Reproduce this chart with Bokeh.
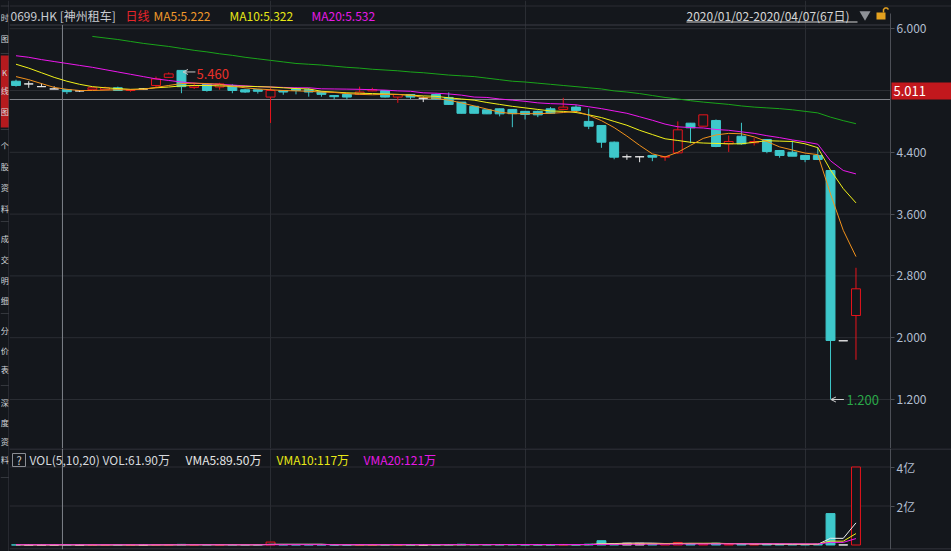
import math
from bokeh.plotting import figure
from bokeh.layouts import row, column
from bokeh.models import (Range1d, FixedTicker, PrintfTickFormatter, Label, Arrow,
                          OpenHead, ColumnDataSource, GlobalInlineStyleSheet)
from bokeh.core.properties import value
from bokeh.embed import file_html
from bokeh.resources import INLINE

# ---------------- data ----------------
symbol = "0699.HK [神州租车]"
period_label = "日线"
date_label = "2020/01/02-2020/04/07(67日)"
ma_labels = ["MA5:5.222", "MA10:5.322", "MA20:5.532"]
vol_labels = ["VOL(5,10,20) VOL:61.90万", "VMA5:89.50万", "VMA10:117万", "VMA20:121万"]
cursor_price_label = "5.011"

opens = [5.32, 5.285, 5.25, 5.22, 5.21, 5.195, 5.21, 5.21, 5.235, 5.2,
         5.22, 5.265, 5.37, 5.46, 5.24, 5.28, 5.245, 5.265, 5.21, 5.21,
         5.115, 5.2, 5.22, 5.21, 5.185, 5.135, 5.15, 5.15, 5.195, 5.2,
         5.115, 5.148, 5.1, 5.148, 5.11, 5.05, 4.995, 4.95, 4.963, 4.955,
         4.93, 4.93, 4.963, 4.955, 4.985, 4.8, 4.747, 4.531, 4.342, 4.342,
         4.359, 4.337, 4.393, 4.777, 4.738, 4.812, 4.51, 4.608, 4.523, 4.566,
         4.423, 4.401, 4.359, 4.359, 4.164, 1.96, 2.287]
highs = [5.34, 5.32, 5.295, 5.255, 5.22, 5.2, 5.24, 5.25, 5.25, 5.21,
         5.23, 5.38, 5.435, 5.46, 5.30, 5.29, 5.30, 5.28, 5.22, 5.215,
         5.23, 5.2, 5.24, 5.23, 5.19, 5.14, 5.155, 5.25, 5.235, 5.205,
         5.15, 5.15, 5.122, 5.16, 5.175, 5.05, 5.0, 4.95, 4.965, 4.96,
         4.93, 4.94, 4.985, 5.105, 5.01, 4.965, 4.75, 4.54, 4.372, 4.345,
         4.36, 4.35, 4.80, 4.78, 4.885, 4.825, 4.617, 4.782, 4.583, 4.57,
         4.43, 4.553, 4.36, 4.466, 4.164, 1.96, 2.905]
lows = [5.25, 5.235, 5.25, 5.22, 5.155, 5.18, 5.205, 5.205, 5.195, 5.185,
        5.21, 5.245, 5.37, 5.165, 5.22, 5.185, 5.21, 5.165, 5.17, 5.16,
        4.78, 5.145, 5.15, 5.12, 5.12, 5.085, 5.085, 5.145, 5.19, 5.11,
        5.04, 5.09, 5.05, 5.08, 5.015, 4.905, 4.905, 4.895, 4.865, 4.725,
        4.825, 4.855, 4.9, 4.95, 4.94, 4.70, 4.458, 4.31, 4.303, 4.272,
        4.285, 4.29, 4.38, 4.518, 4.738, 4.466, 4.405, 4.5, 4.488, 4.388,
        4.33, 4.35, 4.272, 4.30, 1.20, 1.96, 1.714]
closes = [5.265, 5.285, 5.25, 5.22, 5.185, 5.195, 5.235, 5.235, 5.2, 5.21,
          5.22, 5.35, 5.415, 5.25, 5.26, 5.2, 5.285, 5.2, 5.18, 5.19,
          5.2, 5.18, 5.2, 5.18, 5.15, 5.12, 5.115, 5.18, 5.21, 5.115,
          5.148, 5.115, 5.1, 5.09, 5.02, 4.905, 4.905, 4.898, 4.898, 4.9,
          4.89, 4.885, 4.906, 4.985, 4.94, 4.738, 4.531, 4.337, 4.342, 4.342,
          4.337, 4.346, 4.691, 4.717, 4.885, 4.475, 4.54, 4.51, 4.54, 4.41,
          4.359, 4.35, 4.307, 4.307, 1.964, 1.96, 2.633]

ma5 = [5.38, 5.34, 5.29, 5.24, 5.215, 5.2, 5.2, 5.205, 5.21, 5.21,
       5.215, 5.24, 5.265, 5.29, 5.295, 5.29, 5.28, 5.255, 5.235, 5.22,
       5.21, 5.2, 5.195, 5.19, 5.18, 5.175, 5.16, 5.15, 5.145, 5.15,
       5.148, 5.14, 5.11, 5.1, 5.075, 5.04, 5.0, 4.96, 4.92, 4.9,
       4.9, 4.9, 4.905, 4.915, 4.93, 4.88, 4.81, 4.72, 4.61, 4.49,
       4.38, 4.34, 4.40, 4.49, 4.58, 4.625, 4.645, 4.64, 4.60, 4.54,
       4.47, 4.43, 4.39, 4.37, 3.86, 3.39, 3.05]
ma10 = [5.54, 5.49, 5.43, 5.37, 5.32, 5.28, 5.25, 5.235, 5.225, 5.215,
        5.22, 5.235, 5.245, 5.26, 5.265, 5.265, 5.26, 5.255, 5.255, 5.25,
        5.245, 5.235, 5.225, 5.22, 5.19, 5.18, 5.17, 5.165, 5.16, 5.155,
        5.15, 5.14, 5.13, 5.125, 5.105, 5.09, 5.075, 5.045, 5.02, 4.995,
        4.975, 4.955, 4.935, 4.93, 4.915, 4.885, 4.85, 4.80, 4.75, 4.685,
        4.63, 4.575, 4.553, 4.53, 4.52, 4.515, 4.51, 4.51, 4.53, 4.55,
        4.545, 4.54, 4.51, 4.46, 4.17, 3.93, 3.745]
ma20 = [5.65, 5.63, 5.60, 5.575, 5.55, 5.525, 5.50, 5.47, 5.44, 5.41,
        5.38, 5.35, 5.33, 5.31, 5.295, 5.285, 5.28, 5.27, 5.26, 5.25,
        5.245, 5.24, 5.235, 5.235, 5.222, 5.22, 5.218, 5.215, 5.21, 5.205,
        5.195, 5.19, 5.17, 5.165, 5.155, 5.14, 5.115, 5.11, 5.09, 5.075,
        5.06, 5.04, 5.03, 5.025, 5.015, 4.99, 4.965, 4.935, 4.905, 4.86,
        4.815, 4.765, 4.73, 4.72, 4.715, 4.695, 4.685, 4.665, 4.645, 4.615,
        4.59, 4.56, 4.535, 4.505, 4.29, 4.165, 4.12]
nan = float("nan")
ma60 = [nan, nan, nan, nan, nan, nan,
        5.90, 5.88, 5.86, 5.835, 5.81, 5.79, 5.77, 5.745, 5.72, 5.70,
        5.675, 5.655, 5.63, 5.61, 5.59, 5.57, 5.55, 5.54, 5.53,
        5.515, 5.50, 5.49, 5.475, 5.465, 5.455, 5.44, 5.43, 5.415, 5.40,
        5.39, 5.38, 5.36, 5.34, 5.32, 5.31, 5.295, 5.28, 5.265, 5.25, 5.235,
        5.22, 5.195, 5.18, 5.16, 5.135, 5.11, 5.09, 5.068, 5.05, 5.035,
        5.02, 5.0, 4.985, 4.975, 4.965, 4.95, 4.93, 4.91, 4.855, 4.81, 4.77]

# volume in 万 shares
volumes = [62, 45, 30, 28, 61.9, 20, 35, 40, 55, 25,
           30, 180, 150, 320, 90, 110, 85, 120, 70, 60,
           1500, 140, 95, 110, 80, 60, 75, 130, 90, 160,
           110, 70, 40, 85, 210, 380, 260, 190, 170, 240,
           150, 120, 130, 280, 140, 420, 2200, 560, 900, 850,
           700, 760, 1300, 620, 480, 910, 350, 430, 260, 520,
           310, 280, 240, 330, 16100, 60, 40000]
vma5 = [95, 82, 70, 55, 89.5, 37, 35, 37, 42, 35, 37,
        67, 88, 142, 155, 170, 151, 145, 95, 89,
        367, 378, 385, 385, 397, 97, 84, 91, 87, 103,
        113, 113, 104, 101, 123, 189, 215, 223, 240, 248,
        202, 174, 166, 184, 164, 226, 634, 720, 940, 1006,
        962, 754, 822, 848, 772, 814, 732, 678, 486, 530,
        374, 356, 322, 338, 3452, 3402, 11346]
vma10 = [110, 105, 100, 98, 117, 95, 90, 85, 80, 60, 40, 55, 70, 90, 95, 100, 110, 115, 118, 120,
         255, 260, 262, 265, 268, 240, 230, 120, 118, 122, 120, 120, 118, 125, 130, 150, 165, 172, 188, 195,
         205, 200, 205, 205, 206, 208, 450, 470, 580, 620,
         690, 700, 740, 830, 880, 880, 740, 700, 650, 640,
         600, 550, 500, 500, 1973, 1960, 5853]
vma20 = [125, 122, 120, 121, 121, 118, 115, 112, 108, 100, 98, 95, 95, 100, 102, 108, 100, 100, 102, 103,
         150, 160, 165, 170, 175, 175, 175, 175, 170, 160, 182, 178, 175, 175, 180, 190, 195, 195, 200, 210,
         230, 230, 225, 220, 225, 235, 300, 340, 390, 420,
         450, 470, 500, 530, 540, 560, 600, 610, 610, 620,
         610, 600, 580, 560, 1350, 1340, 3298]

month_starts = [20, 40, 62]
price_ticks = [1.2, 2.0, 2.8, 3.6, 4.4, 6.0]
price_grid = [1.2, 2.0, 2.8, 3.6, 4.4, 5.2, 6.0]
vol_ticks = [2, 4]
vol_tick_text = {2: "2亿", 4: "4亿"}
cursor_index = 3.65
side_tabs = [("时", 17), ("图", 38), ("K", 72), ("线", 90), ("图", 111),
             ("个", 145), ("股", 166), ("资", 187), ("料", 208),
             ("成", 238), ("交", 259), ("明", 280), ("细", 300),
             ("分", 330), ("价", 350), ("表", 369),
             ("深", 402), ("度", 422), ("资", 441), ("料", 459)]

# ---------------- styling ----------------
BG = "#14171c"
GRID = "#2a2d33"
OUT = "#3a3d44"
AXC = "#4c4f56"
CROSS = "#7e8188"
UP = "#e8141c"
DN = "#3ec8cb"
EQ = "#e6e6e6"
FONT = "Noto Sans CJK SC"
LBL = "#b2bed0"

# layout helpers: page pixel -> data (annotation / frame placement only)
def xd(px): return (px - 15.5) / 12.727
def yd(py): return 6.0 - (py - 28.2) / 77.25
def vd(py): return (544.5 - py) / 19.5

N = len(opens)
idx = list(range(N))
col = [UP if c > o else (DN if c < o else EQ) for o, c in zip(opens, closes)]
fill = [BG if c > o else k for o, c, k in zip(opens, closes, col)]
top = [max(o, c) for o, c in zip(opens, closes)]
bot = [min(o, c) for o, c in zip(opens, closes)]
src = ColumnDataSource(dict(x=idx, h=highs, l=lows, top=top, bot=bot, col=col, fill=fill,
                            vol=[q / 10000.0 for q in volumes]))

def base_fig(w, h, xr, yr, **kw):
    return figure(width=w, height=h, x_range=xr, y_range=yr, title=None,
                  toolbar_location=None, output_backend="svg",
                  background_fill_color=BG, border_fill_color=BG,
                  min_border_left=0, min_border_top=0, min_border_bottom=0,
                  min_border_right=0, outline_line_color=None, **kw)

def style_axis(a):
    a.axis_line_color = AXC
    a.major_tick_line_color = AXC
    a.major_tick_out = 4
    a.major_tick_in = 0
    a.minor_tick_line_color = None
    a.major_label_text_color = LBL
    a.major_label_text_font = FONT
    a.major_label_text_font_size = "12px"
    a.major_label_standoff = 2

xr = Range1d(xd(9), xd(951))
X_AXIS = xd(890)   # where the price / volume scales sit
X_LEFT = xd(9)

# ---------------- sidebar ----------------
s = base_fig(9, 551, Range1d(0, 9), Range1d(551, 0), x_axis_location=None, y_axis_location=None)
s.grid.visible = False
s.quad(left=[0], right=[9], top=[55], bottom=[127], fill_color="#b51a1e", line_color=None)
s.segment(x0=[0] * 7, x1=[9] * 7, y0=[5.5, 53, 129, 221, 313, 385, 477],
          y1=[5.5, 53, 129, 221, 313, 385, 477], color="#34373d")
s.segment(x0=[8.5], x1=[8.5], y0=[0], y1=[551], color=OUT)
s.text(x=[4.2] * len(side_tabs), y=[t[1] for t in side_tabs], text=[t[0] for t in side_tabs],
       text_font=value(FONT), text_font_size="8px", text_color="#d2d5da",
       text_align="center", text_baseline="middle")

# ---------------- main price panel (with header strip on top) ----------------
p = base_fig(942, 448, xr, Range1d(yd(448), yd(0)), x_axis_location=None,
             y_axis_location="right")
p.xgrid.ticker = FixedTicker(ticks=month_starts)
p.xgrid.grid_line_color = GRID
p.ygrid.visible = False
ax = p.yaxis[0]
ax.fixed_location = X_AXIS
ax.bounds = (yd(448), yd(13))
ax.ticker = FixedTicker(ticks=price_ticks)
ax.formatter = PrintfTickFormatter(format="%.3f")
style_axis(ax)

ng = len(price_grid)
p.segment(x0=[X_LEFT] * ng, x1=[X_AXIS] * ng, y0=price_grid, y1=price_grid, color=GRID)
# panel borders
p.segment(x0=[X_LEFT], x1=[X_AXIS], y0=[yd(24.5)], y1=[yd(24.5)], color=OUT)
p.segment(x0=[X_LEFT], x1=[xd(951)], y0=[yd(5.5)], y1=[yd(5.5)], color=GRID)
# cursor cross-hair and its price tag on the scale
p.segment(x0=[cursor_index], x1=[cursor_index], y0=[yd(24.5)], y1=[yd(448)], color=CROSS)
p.segment(x0=[X_LEFT], x1=[X_AXIS], y0=[yd(99)], y1=[yd(99)], color=CROSS)
p.quad(left=[xd(891)], right=[xd(951)], top=[yd(82)], bottom=[yd(99)],
       fill_color="#c2181d", fill_alpha=1.0, line_color=None)
p.text(x=[xd(893)], y=[yd(90.5)], text=[cursor_price_label], text_color="#ffffff",
       text_font=value(FONT), text_font_size="13px", text_baseline="middle")

# header texts
hx = [10, 125, 153, 229, 311]
htxt = [symbol, period_label] + ma_labels
hcol = ["#c9ccd2", "#e8252b", "#f0992a", "#e8e816", "#e619e6"]
p.text(x=[xd(q) for q in hx], y=[yd(15)] * 5, text=htxt, text_color=hcol,
       text_font=value(FONT), text_font_size="12px", text_baseline="middle")
p.text(x=[xd(686)], y=[yd(15)], text=[date_label], text_color="#d6d6d6",
       text_font=value(FONT), text_font_size="12px", text_baseline="middle")
p.segment(x0=[xd(686)], x1=[xd(857)], y0=[yd(21.5)], y1=[yd(21.5)], color="#d6d6d6")
p.scatter(x=[xd(864.5)], y=[yd(14)], marker="inverted_triangle", size=11,
          fill_color="#8e9197", line_color=None)
p.quad(left=[xd(876)], right=[xd(885)], top=[yd(12)], bottom=[yd(19)],
       fill_color="#e3a11f", line_color=None)
p.line(x=[xd(883), xd(883), xd(884.5), xd(886.5), xd(888)],
       y=[yd(12), yd(9), yd(7.5), yd(7.5), yd(9)], line_color="#e3a11f", line_width=1.5)

# candles and moving averages
p.line(idx, ma60, line_color="#1aa51a", line_width=1)
p.segment(x0="x", y0="l", x1="x", y1="h", color="col", source=src, line_width=1)
p.vbar(x="x", width=0.7, top="top", bottom="bot", fill_color="fill", line_color="col",
       source=src, line_width=1)
p.line(idx, ma20, line_color="#ee18ee", line_width=1)
p.line(idx, ma10, line_color="#f2f21a", line_width=1)
p.line(idx, ma5, line_color="#f2921c", line_width=1)

hi_i = max(idx, key=lambda i: highs[i])
lo_i = min(idx, key=lambda i: lows[i])
hi_v, lo_v = highs[hi_i], lows[lo_i]
p.add_layout(Arrow(end=OpenHead(size=5, line_color="#c8c8c8", line_width=1),
                   x_start=hi_i + 1.1, y_start=hi_v - 0.02, x_end=hi_i + 0.12, y_end=hi_v - 0.02,
                   line_color="#c8c8c8", line_width=1))
p.add_layout(Label(x=hi_i, y=hi_v, x_offset=15, y_offset=-4, text="%.3f" % hi_v,
                   text_color="#e8302a", text_font=FONT, text_font_size="13px",
                   text_baseline="middle"))
p.add_layout(Arrow(end=OpenHead(size=5, line_color="#d0d0d0", line_width=1),
                   x_start=lo_i + 1.05, y_start=lo_v, x_end=lo_i + 0.03, y_end=lo_v,
                   line_color="#d0d0d0", line_width=1))
p.add_layout(Label(x=lo_i, y=lo_v, x_offset=16, y_offset=0, text="%.3f" % lo_v,
                   text_color="#2aa848", text_font=FONT, text_font_size="13px",
                   text_baseline="middle"))

# ---------------- volume panel ----------------
v = base_fig(942, 103, xr, Range1d(vd(549), vd(448)), x_axis_location=None,
             y_axis_location="right")
v.min_border_bottom = 2
v.xgrid.ticker = FixedTicker(ticks=month_starts)
v.xgrid.grid_line_color = GRID
v.ygrid.visible = False
vax = v.yaxis[0]
vax.fixed_location = X_AXIS
vax.bounds = (vd(549), vd(448))
vax.ticker = FixedTicker(ticks=vol_ticks)
vax.major_label_overrides = vol_tick_text
style_axis(vax)

nv = len(vol_ticks)
v.segment(x0=[X_LEFT] * nv, x1=[X_AXIS] * nv, y0=vol_ticks, y1=vol_ticks, color=GRID)
v.segment(x0=[X_LEFT, X_LEFT], x1=[xd(951), xd(951)], y0=[vd(448.5), vd(548.5)],
          y1=[vd(448.5), vd(548.5)], color=OUT)
v.segment(x0=[cursor_index], x1=[cursor_index], y0=[vd(448)], y1=[vd(549)], color=CROSS)

v.vbar(x="x", width=0.7, top="vol", bottom=0, fill_color="fill", line_color="col",
       source=src, line_width=1)
v.line(idx, [q / 10000.0 for q in vma5], line_color="#f0f0f0", line_width=1)
v.line(idx, [q / 10000.0 for q in vma10], line_color="#f2f21a", line_width=1)
v.line(idx, [q / 10000.0 for q in vma20], line_color="#ee18ee", line_width=1)

v.quad(left=[xd(12)], right=[xd(25)], top=[vd(453)], bottom=[vd(466)],
       fill_color=None, line_color="#8a8d93")
v.text(x=[xd(18.5)], y=[vd(459.5)], text=["?"], text_color="#d0d0d0", text_align="center",
       text_font=value(FONT), text_font_size="11px", text_baseline="middle")
vx = [29, 185, 276, 363]
vcol = ["#d6d9de", "#e6e6e6", "#e8e816", "#e619e6"]
v.text(x=[xd(q) for q in vx], y=[vd(459)] * 4, text=vol_labels, text_color=vcol,
       text_font=value(FONT), text_font_size="12px", text_baseline="middle")

root = row(s, column(p, v, spacing=0), spacing=0)
root.stylesheets = [GlobalInlineStyleSheet(
    css="html, body { margin: 0 !important; padding: 0 !important; background: #14171c; overflow: hidden; }")]

open("out.html", "w").write(file_html(root, INLINE))
